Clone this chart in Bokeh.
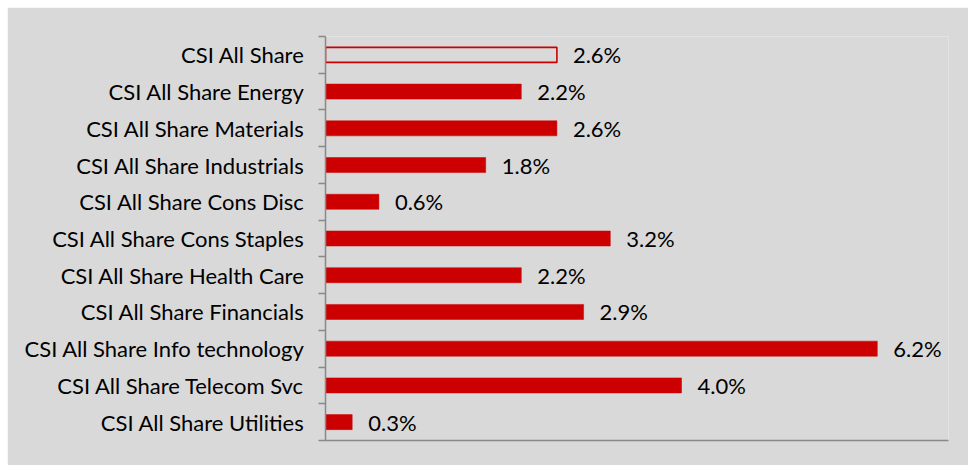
from bokeh.plotting import figure
from bokeh.models import Range1d, FixedTicker, ColumnDataSource
from bokeh.core.properties import value
from bokeh.embed import file_html
from bokeh.resources import INLINE

categories = ["CSI All Share", "CSI All Share Energy", "CSI All Share Materials",
              "CSI All Share Industrials", "CSI All Share Cons Disc",
              "CSI All Share Cons Staples", "CSI All Share Health Care",
              "CSI All Share Financials", "CSI All Share Info technology",
              "CSI All Share Telecom Svc", "CSI All Share Utilities"]
values = [2.6, 2.2, 2.6, 1.8, 0.6, 3.2, 2.2, 2.9, 6.2, 4.0, 0.3]

n = len(categories)
ypos = [n - i - 0.5 for i in range(n)]
labels = ["%.1f%%" % v for v in values]

FONT = "Lato"
FSIZE = "22px"
BG = "#d9d9d9"
RED = "#cc0000"
AXIS = "#898989"

p = figure(width=961, height=458, output_backend="svg", toolbar_location=None,
           x_range=Range1d(0, 7), y_range=Range1d(0, n),
           min_border_left=318, min_border_right=20, min_border_top=29,
           min_border_bottom=25)
p.margin = (7, 0, 0, 7)
p.background_fill_color = BG
p.border_fill_color = BG
p.outline_line_color = None
p.grid.visible = False

src_all = ColumnDataSource(dict(y=ypos[:1], v=values[:1], lab=labels[:1]))
src_rest = ColumnDataSource(dict(y=ypos[1:], v=values[1:], lab=labels[1:]))

p.hbar(y="y", right="v", left=0, height=0.41, source=src_all,
       fill_color=None, line_color=RED, line_width=1.6)
p.hbar(y="y", right="v", left=0, height=0.41, source=src_rest,
       fill_color=RED, line_color=RED, line_width=0.5)

for s in (src_all, src_rest):
    p.text(x="v", y="y", text="lab", source=s, x_offset=16,
           text_baseline="middle", text_align="left",
           text_font=value(FONT), text_font_size=FSIZE, text_color="#000000")

# y axis: labels at centres, tick marks at category boundaries
yax = p.yaxis[0]
yax.ticker = FixedTicker(ticks=ypos, minor_ticks=list(range(n + 1)))
yax.major_label_overrides = {y: c for y, c in zip(ypos, categories)}
yax.major_tick_out = 0
yax.major_tick_in = 0
yax.minor_tick_out = 7
yax.minor_tick_in = 0
yax.minor_tick_line_color = AXIS
yax.minor_tick_line_width = 1.5
yax.axis_line_color = AXIS
yax.axis_line_width = 1.5
yax.major_label_standoff = 14
yax.major_label_text_font = FONT
yax.major_label_text_font_size = FSIZE
yax.major_label_text_color = "#000000"

xax = p.xaxis[0]
xax.ticker = FixedTicker(ticks=[])
xax.major_tick_line_color = None
xax.minor_tick_line_color = None
xax.axis_line_color = AXIS
xax.axis_line_width = 1.5
xax.major_label_standoff = 0

open("out.html", "w").write(file_html(p, INLINE))
